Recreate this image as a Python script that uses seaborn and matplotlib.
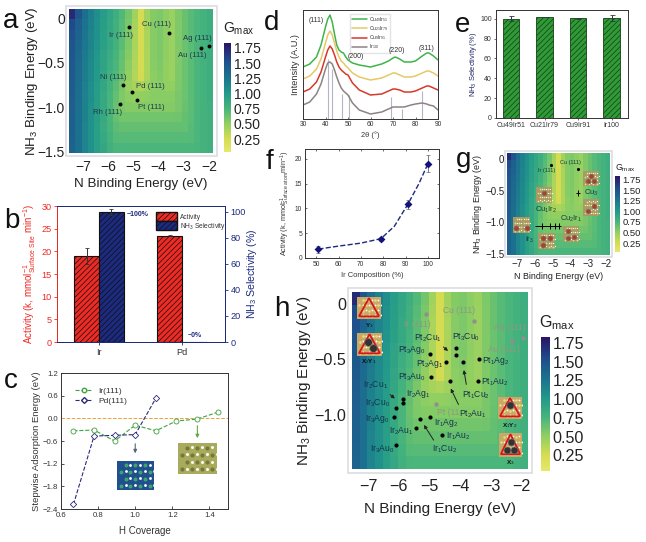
import numpy as np
import pandas as pd
import seaborn as sns
import matplotlib
matplotlib.use('Agg')
import matplotlib.pyplot as plt
from matplotlib.colors import LinearSegmentedColormap
from matplotlib.lines import Line2D
from matplotlib.patches import Patch, Polygon, Rectangle

# ---- data ----
G_GRID = [
    [1.72,1.48,1.30,1.18,1.08,.98,.90,.82,.72,.60,.44,.26,.44,.55,.57,.52,.48,.57,.64,.70,.74,.78,.82],
    [1.55,1.40,1.26,1.16,1.06,.96,.88,.80,.70,.58,.42,.25,.42,.54,.57,.52,.47,.56,.64,.70,.74,.78,.82],
    [1.50,1.38,1.25,1.15,1.05,.95,.87,.79,.69,.57,.41,.25,.41,.54,.57,.52,.47,.56,.64,.70,.74,.78,.82],
    [1.48,1.36,1.24,1.14,1.04,.94,.86,.78,.68,.56,.41,.25,.41,.54,.57,.51,.47,.56,.63,.69,.74,.78,.81],
    [1.46,1.34,1.22,1.12,1.02,.92,.84,.76,.66,.55,.40,.25,.40,.54,.57,.51,.47,.56,.63,.69,.74,.78,.81],
    [1.45,1.33,1.21,1.11,1.01,.91,.82,.74,.64,.52,.39,.25,.40,.53,.56,.50,.47,.56,.63,.69,.74,.78,.81],
    [1.44,1.32,1.20,1.10,1.00,.90,.80,.72,.62,.50,.38,.27,.40,.52,.55,.50,.47,.56,.63,.69,.74,.78,.81],
    [1.43,1.31,1.18,1.08,.98,.88,.78,.68,.58,.48,.42,.40,.45,.52,.53,.50,.50,.57,.63,.69,.74,.78,.81],
    [1.42,1.30,1.17,1.07,.97,.87,.76,.65,.56,.52,.50,.50,.51,.53,.53,.53,.53,.58,.63,.69,.74,.78,.81],
    [1.41,1.29,1.16,1.06,.96,.86,.75,.64,.57,.55,.55,.55,.55,.55,.55,.55,.55,.58,.64,.69,.74,.77,.80],
    [1.40,1.28,1.16,1.06,.96,.86,.75,.65,.60,.60,.60,.60,.60,.60,.60,.60,.60,.61,.65,.69,.74,.77,.80],
    [1.40,1.28,1.15,1.05,.95,.85,.76,.68,.65,.65,.65,.65,.65,.65,.65,.65,.65,.65,.66,.70,.74,.77,.80],
    [1.39,1.28,1.15,1.05,.95,.86,.78,.71,.70,.70,.70,.70,.70,.70,.70,.70,.70,.70,.70,.71,.74,.77,.80],
    [1.38,1.28,1.15,1.05,.95,.88,.80,.75,.74,.74,.74,.74,.74,.74,.74,.74,.74,.74,.74,.74,.75,.77,.80],
]
MAP_XTICKS = [-7, -6, -5, -4, -3, -2]
MAP_YTICKS = [0, -0.5, -1.0, -1.5]
MAP_YLABELS = ['0', '\u22120.5', '\u22121.0', '\u22121.5']
CBAR_TICKS = [0.25, 0.5, 0.75, 1.0, 1.25, 1.5, 1.75]

a_names = ['Ir (111)', 'Cu (111)', 'Ag (111)', 'Au (111)', 'Ni (111)', 'Pd (111)', 'Pt (111)', 'Rh (111)']
a_x = [-5.17, -3.59, -1.99, -2.33, -5.41, -5.04, -4.86, -5.53]
a_y = [-0.09, -0.16, -0.31, -0.33, -0.75, -0.83, -0.92, -0.96]
a_label_x = [-5.47, -4.09, -2.46, -2.65, -5.80, -4.33, -4.29, -6.03]
a_label_y = [-0.19, -0.06, -0.22, -0.42, -0.66, -0.77, -1.00, -1.06]

b_metals = ['Ir', 'Pd']
b_activity = [19.0, 23.4]
b_activity_err = [1.7, 0.1]
b_selectivity = [100.0, 0.0]
b_selectivity_err = [2.0, 0.0]

c_ir_x = [0.667, 0.778, 0.889, 1.0, 1.111, 1.222, 1.333, 1.444]
c_ir_y = [-0.33, -0.31, -0.60, -0.18, -0.33, -0.07, -0.02, 0.16]
c_pd_x = [0.667, 0.778, 0.889, 1.0, 1.111]
c_pd_y = [-2.28, -0.47, -0.45, -0.43, 0.53]

d_x = [30, 33, 36, 38, 40, 41, 42, 43, 44, 45, 46, 47, 48, 49, 50, 52, 55, 60, 65, 68, 70, 71, 73, 75, 78, 80, 83, 85, 86, 88, 90]
d_green = [52, 55, 62, 74, 92, 100, 104, 97, 85, 74, 69, 67, 66, 62, 59, 56, 54, 52, 55, 58, 61, 62, 60, 57, 57, 58, 63, 66, 66, 63, 59]
d_yellow = [40, 43, 50, 60, 76, 84, 88, 84, 76, 68, 62, 58, 56, 53, 51, 46, 42, 39, 41, 44, 46, 46, 44, 42, 42, 43, 46, 48, 48, 46, 43]
d_red = [27, 30, 37, 47, 62, 69, 73, 70, 64, 57, 52, 49, 47, 45, 44, 36, 29, 24, 25, 28, 30, 30, 29, 27, 27, 28, 31, 33, 33, 31, 29]
d_gray = [14, 17, 25, 35, 50, 56, 57, 55, 49, 42, 36, 31, 28, 26, 24, 16, 9, 5, 7, 10, 12, 12, 12, 12, 14, 15, 16, 15, 14, 13, 9]
d_stick_x = [41, 43, 47.5, 50.5, 69, 74, 83]
d_stick_h = [60, 50, 25, 24, 22, 10, 28]

e_labels = ['Cu49Ir51', 'Cu21Ir79', 'Cu9Ir91', 'Ir100']
e_values = [100.0, 101.5, 100.5, 100.5]
e_err = [2.5, 0.3, 0.6, 3.0]

f_x = [51, 79, 91, 100]
f_y = [1.8, 3.9, 10.8, 19.0]
f_err = [0.7, 0.4, 1.0, 1.7]
f_fit_x = [51, 60, 70, 79, 85, 91, 96, 100]
f_fit_y = [1.8, 2.4, 3.0, 3.9, 6.4, 10.8, 15.0, 19.0]

g_x = [-5.6, -5.13, -4.88, -4.62, -3.56]
g_y = [-1.06, -1.06, -1.06, -1.06, -0.53]
g_ref_x = [-5.1, -3.6]
g_ref_y = [-0.09, -0.16]

h_ref_names = ['Ir (111)', 'Cu (111)', 'Ag (111)', 'Au (111)', 'Pt (11']
h_ref_x = [-5.1, -3.55, -2.33, -1.97, -4.8]
h_ref_y = [-0.09, -0.15, -0.33, -0.31, -0.90]
h_ref_label_x = [-5.41, -4.03, -2.40, -2.60, -4.38]
h_ref_label_y = [-0.18, -0.06, -0.21, -0.41, -0.98]
h_x = [-4.15, -4.15, -5.0, -4.46, -3.92, -3.39, -4.95, -4.33, -3.43, -5.85, -5.85, -6.10, -6.15, -5.32, -4.98, -5.43, -4.61, -6.10]
h_y = [-0.40, -0.46, -0.45, -0.52, -0.52, -0.50, -0.66, -0.69, -0.69, -0.86, -0.89, -0.94, -1.02, -1.04, -1.02, -1.12, -1.18, -1.27]
h_names = ['Pt$_2$Cu$_1$', 'Pt$_3$Cu$_0$', 'Pt$_3$Ag$_0$', 'Pt$_2$Ag$_1$', 'Pt$_1$Ag$_2$', 'Pt$_3$Au$_0$',
           'Pt$_1$Au$_2$', 'Pt$_1$Cu$_2$', 'Pt$_2$Au$_1$', 'Ir$_2$Cu$_1$', 'Ir$_2$Ag$_1$', 'Ir$_3$Cu$_0$',
           'Ir$_3$Ag$_0$', 'Ir$_1$Ag$_2$', 'Ir$_2$Au$_1$', 'Ir$_1$Au$_2$', 'Ir$_1$Cu$_2$', 'Ir$_3$Au$_0$']
h_label_x = [-5.05, -3.82, -5.58, -4.98, -2.84, -5.58, -2.87, -3.49, -3.59, -6.76, -5.36, -6.68, -6.71, -4.45, -5.92, -4.08, -4.52, -6.53]
h_label_y = [-0.305, -0.30, -0.41, -0.54, -0.51, -0.655, -0.70, -0.825, -0.99, -0.73, -0.81, -0.90, -1.03, -1.07, -1.14, -1.19, -1.31, -1.31]
# arrow tail / head in energy units
h_arrows = [(-4.62, -0.37, -4.33, -0.44), (-3.79, -0.75, -3.90, -0.57), (-4.02, -0.93, -4.35, -0.74),
            (-6.35, -0.80, -6.06, -0.87), (-4.82, -1.25, -5.23, -1.07)]

# ---- style ----
sns.set_theme(style='ticks')
plt.rcParams['font.family'] = ['Liberation Sans', 'DejaVu Sans']
plt.rcParams['mathtext.fontset'] = 'custom'
plt.rcParams['mathtext.rm'] = 'Liberation Sans'
plt.rcParams['mathtext.default'] = 'rm'
plt.rcParams['hatch.linewidth'] = 0.5
plt.rcParams['axes.edgecolor'] = '#333333'
plt.rcParams['axes.linewidth'] = 0.7
plt.rcParams['text.color'] = '#333333'
plt.rcParams['axes.labelcolor'] = '#333333'
plt.rcParams['xtick.color'] = '#333333'
plt.rcParams['ytick.color'] = '#333333'

W, H = 646, 542
fig = plt.figure(figsize=(W / 100, H / 100), dpi=100, facecolor='white')

gmax_cmap = LinearSegmentedColormap.from_list('gmax', [
    (0.0, '#e6e86a'), (0.12, '#d6dc52'), (0.26, '#8fcf62'), (0.40, '#47b47c'),
    (0.54, '#22998a'), (0.68, '#1c748f'), (0.84, '#1f4c8b'), (1.0, '#2a1465')])


def add_ax(x0, y0, x1, y1, **kw):
    return fig.add_axes([x0 / W, 1 - y1 / H, (x1 - x0) / W, (y1 - y0) / H], **kw)


def letter(s, x, y):
    fig.text(x / W, 1 - y / H, s, fontsize=20, color='#111111', ha='center', va='baseline')


def energy_map(box, frame, cbar_box, xlim, ylim, tick_fs, label_fs, cbar_fs, xpad, ypad, xlabelpad, ylabelpad):
    fig.add_artist(Rectangle((frame[0] / W, 1 - frame[3] / H), (frame[2] - frame[0]) / W,
                             (frame[3] - frame[1]) / H, transform=fig.transFigure,
                             fc='white', ec='#dcdce2', lw=1.2, zorder=-1))
    hm_ax = add_ax(*box)
    cax = add_ax(*cbar_box)
    sns.heatmap(pd.DataFrame(G_GRID), ax=hm_ax, cmap=gmax_cmap, vmin=0.04, vmax=1.83, cbar_ax=cax,
                xticklabels=False, yticklabels=False)
    # same cells, blended so the field is as soft as in the original
    n_rows, n_cols = len(G_GRID), len(G_GRID[0])
    hm_ax.imshow(G_GRID, cmap=gmax_cmap, vmin=0.04, vmax=1.83, aspect='auto', interpolation='bilinear',
                 extent=(0, n_cols, n_rows, 0))
    hm_ax.set_xlim(0, n_cols)
    hm_ax.set_ylim(n_rows, 0)
    cb = hm_ax.collections[0].colorbar
    cb.set_ticks(CBAR_TICKS)
    cb.set_ticklabels(['%.2f' % t for t in CBAR_TICKS])
    cb.outline.set_visible(False)
    cb.ax.tick_params(length=0, labelsize=cbar_fs, pad=2, labelcolor='#222222')
    hm_ax.set_xlabel('')
    hm_ax.set_ylabel('')
    ov = add_ax(*box)
    ov.patch.set_alpha(0)
    for s in ov.spines.values():
        s.set_visible(False)
    ov.set_xlim(*xlim)
    ov.set_ylim(*ylim)
    ov.set_xticks(MAP_XTICKS)
    ov.set_xticklabels(['\u2212%d' % abs(t) for t in MAP_XTICKS])
    ov.set_yticks(MAP_YTICKS)
    ov.set_yticklabels(MAP_YLABELS)
    ov.tick_params(axis='x', length=0, labelsize=tick_fs, pad=xpad, labelcolor='#222222')
    ov.tick_params(axis='y', length=0, labelsize=tick_fs, pad=ypad, labelcolor='#222222')
    ov.set_xlabel('N Binding Energy (eV)', fontsize=label_fs, color='#222222', labelpad=xlabelpad)
    ov.set_ylabel('NH$_3$ Binding Energy (eV)', fontsize=label_fs, color='#222222', labelpad=ylabelpad)
    return ov


def crystal(x0, y0, x1, y1, bg, dots, dark=None, dark_col='#333333', triangle=False):
    ax = add_ax(x0, y0, x1, y1)
    ax.set_xlim(0, 1)
    ax.set_ylim(0, 1)
    ax.axis('off')
    ax.add_patch(Rectangle((0, 0), 1, 1, fc=bg, ec='none'))
    size = ((x1 - x0) / 13.0) ** 2
    for r, yy in enumerate([0.15, 0.38, 0.62, 0.85]):
        xs = np.arange(0.1 + (r % 2) * 0.13, 1.0, 0.26)
        ax.scatter(xs, [yy] * len(xs), s=size, color=dots, lw=0)
        ax.scatter(xs + 0.13, [yy + 0.02] * len(xs), s=size * 0.5, color='white', lw=0)
    if triangle:
        ax.add_patch(Polygon([[0.08, 0.12], [0.92, 0.12], [0.5, 0.95]], closed=True, fc='none', ec='#d8141c', lw=1.3))
    if dark:
        ax.scatter([p[0] for p in dark], [p[1] for p in dark], s=size * 8, color=dark_col, ec='#777777', lw=0.4, zorder=5)
    return ax


# ---- a ----
ax_a = energy_map((69, 9, 213, 153), (66, 6, 217, 156), (224, 43, 231, 152), (-7.55, -1.84), (-1.52, 0.11), 10, 9.6, 10, 5, 3, 3, -2)
sns.scatterplot(x=a_x, y=a_y, ax=ax_a, color='black', s=8, linewidth=0, legend=False)
for n, lx, ly in zip(a_names, a_label_x, a_label_y):
    ax_a.text(lx, ly, n, fontsize=5.6, ha='center', va='center', color='#1f3a4a')
fig.text(223 / W, 1 - 29 / H, 'G$_{max}$', fontsize=10, color='#222222', va='center')
ax_a.set_xlim(-7.55, -1.84)
ax_a.set_ylim(-1.52, 0.11)

# ---- b ----
ax_b = add_ax(57, 206, 225, 342)
long_b = pd.DataFrame({'metal': b_metals * 2, 'kind': ['Activity'] * 2 + ['NH3'] * 2,
                       'activity': b_activity + [np.nan] * 2, 'sel': [np.nan] * 2 + b_selectivity})
red, navy = '#ee2a24', '#1c2a80'
sns.barplot(data=long_b, x='metal', y='activity', hue='kind', hue_order=['Activity', 'NH3'],
            palette=[red, navy], width=0.6, saturation=1, errorbar=None, legend=False, ax=ax_b)
ax_b2 = ax_b.twinx()
sns.barplot(data=long_b, x='metal', y='sel', hue='kind', hue_order=['Activity', 'NH3'],
            palette=[red, navy], width=0.6, saturation=1, errorbar=None, legend=False, ax=ax_b2)
for a in (ax_b, ax_b2):
    for p in a.patches:
        p.set_hatch('//////')
        p.set_edgecolor('#111111')
        p.set_linewidth(0.8)
ax_b.errorbar([-0.15, 0.85], b_activity, yerr=b_activity_err, fmt='none', ecolor='#333333', elinewidth=0.7, capsize=1.5, capthick=0.6)
ax_b2.errorbar([0.15, 1.15], b_selectivity, yerr=b_selectivity_err, fmt='none', ecolor='#333333', elinewidth=0.7, capsize=1.5, capthick=0.6)
ax_b.set_xlim(-0.506, 1.518)
ax_b.set_ylim(0, 30)
ax_b2.set_ylim(0, 104.6)
ax_b.set_xlabel('')
ax_b.set_ylabel('Activity (k, mmol$^{-1}_{Surface\\ Site}$ min$^{-1}$)', color=red, fontsize=7, labelpad=2)
ax_b2.set_ylabel('NH$_3$ Selectivity (%)', color=navy, fontsize=7.6, labelpad=-1)
ax_b.tick_params(axis='y', colors=red, labelsize=6.6, length=2.5, width=0.6, pad=1.5)
ax_b.tick_params(axis='x', labelsize=6.6, length=2.5, width=0.6, pad=1.5)
ax_b.set_yticks(np.arange(0, 31, 5))
ax_b2.set_yticks(np.arange(0, 101, 20))
ax_b2.tick_params(axis='y', colors=navy, labelsize=6.6, length=2.5, width=0.6, pad=1.5)
ax_b2.spines['left'].set_color(red)
ax_b2.spines['right'].set_color(navy)
ax_b2.spines['top'].set_color(navy)
ax_b2.spines['bottom'].set_color(navy)
ax_b2.text(0.33, 98, '~100%', fontsize=5, fontweight='bold', color=navy, va='center')
ax_b2.text(1.07, 5, '~0%', fontsize=5, fontweight='bold', color=navy, va='center')
ax_b2.legend(handles=[Patch(fc=red, ec='#111111', hatch='//////', label='Activity'),
                      Patch(fc=navy, ec='#111111', hatch='//////', label='NH$_3$ Selectivity')],
             loc='upper left', bbox_to_anchor=(0.57, 0.98), frameon=False, fontsize=4.8,
             handlelength=3.2, handleheight=1.6, labelspacing=0, borderpad=0, handletextpad=0.4)

# ---- c ----
ax_c = add_ax(61, 373, 228, 509)
ax_c.axhline(0, color='#e8a33c', lw=0.7, ls='--')
ir_green, pd_navy = '#3fa33f', '#2c2a78'
sns.lineplot(x=c_ir_x, y=c_ir_y, ax=ax_c, color=ir_green, lw=0.8, ls='--', marker='o', ms=3.6, mfc='white', mec=ir_green, mew=0.6, errorbar=None, sort=False)
sns.lineplot(x=c_pd_x, y=c_pd_y, ax=ax_c, color=pd_navy, lw=0.8, ls='--', marker='D', ms=3.2, mfc='white', mec=pd_navy, mew=0.6, errorbar=None, sort=False)
ax_c.set_xlim(0.6, 1.5)
ax_c.set_ylim(-2.4, 1.2)
ax_c.set_xticks([0.6, 0.8, 1.0, 1.2, 1.4])
ax_c.set_yticks(np.arange(-2.4, 1.3, 0.6))
ax_c.tick_params(labelsize=5.6, length=2, width=0.6, direction='in', pad=2)
ax_c.set_xlabel('H Coverage', fontsize=7, labelpad=5)
ax_c.set_ylabel('Stepwise Adsorption Energy (eV)', fontsize=6.8, labelpad=1)
ax_c.legend(handles=[Line2D([], [], color=ir_green, lw=0.8, ls='--', marker='o', ms=3.2, mfc='white', label='Ir(111)'),
                     Line2D([], [], color=pd_navy, lw=0.8, ls='--', marker='D', ms=3, mfc='white', label='Pd(111)')],
            loc='upper left', bbox_to_anchor=(0.06, 0.93), frameon=False, fontsize=6, labelspacing=0.35, borderpad=0)
ax_c.annotate('', xy=(1.0, -1.0), xytext=(1.0, -0.6), arrowprops=dict(arrowstyle='-|>', color='#556677', lw=0.8, mutation_scale=5))
ax_c.annotate('', xy=(1.335, -0.6), xytext=(1.335, -0.12), arrowprops=dict(arrowstyle='-|>', color='#66aa44', lw=0.8, mutation_scale=5))
crystal(117, 461, 154, 490, '#1f4f8f', '#3fa36a')
crystal(178, 443, 217, 474, '#a8ab5c', '#77773a')

# ---- d ----
ax_d = add_ax(303, 10, 438, 119)
for sx, sh in zip(d_stick_x, d_stick_h):
    ax_d.vlines(sx, 0, sh, color='#b5b5c5', lw=0.8)
d_series = [(d_green, '#3fb44a', 'Cu$_{49}$Ir$_{51}$'), (d_yellow, '#e6c868', 'Cu$_{21}$Ir$_{79}$'),
            (d_red, '#d8382a', 'Cu$_9$Ir$_{91}$'), (d_gray, '#8c8484', 'Ir$_{100}$')]
for vals, col, lab in d_series:
    sns.lineplot(x=d_x, y=vals, ax=ax_d, color=col, lw=1.1, label=lab, errorbar=None)
ax_d.set_xlim(30, 90)
ax_d.set_ylim(0, 109)
ax_d.set_xticks(np.arange(30, 91, 10))
ax_d.set_yticks([])
ax_d.tick_params(labelsize=4.8, length=1.5, width=0.5, direction='in', pad=1.5)
ax_d.set_xlabel('2\u03b8 (\u00b0)', fontsize=5.4, labelpad=2)
ax_d.set_ylabel('Intensity (A.U.)', fontsize=6.6, labelpad=2)
for s, tx, ty in [('(111)', 35.8, 99), ('(200)', 53.5, 62), ('(220)', 71.8, 68), ('(311)', 85, 71)]:
    ax_d.text(tx, ty, s, fontsize=5, ha='center', va='center', zorder=10)
ax_d.legend(loc='upper left', bbox_to_anchor=(0.33, 0.99), frameon=True, edgecolor='#e4e4e8', framealpha=1, fancybox=False,
            fontsize=3.6, handlelength=3, labelspacing=0.05, borderpad=0.3, handletextpad=0.5)

# ---- e ----
ax_e = add_ax(496, 10, 628, 118)
sns.barplot(x=e_labels, y=e_values, ax=ax_e, color='#2f9a36', width=0.5, saturation=1, errorbar=None)
for p in ax_e.patches:
    p.set_hatch('//////')
    p.set_edgecolor('#143f18')
    p.set_linewidth(0.6)
ax_e.errorbar(range(4), e_values, yerr=e_err, fmt='none', ecolor='#2a3a44', elinewidth=0.7, capsize=1.8, capthick=0.6)
ax_e.set_xlim(-0.45, 3.49)
ax_e.set_ylim(0, 108.7)
ax_e.set_yticks(np.arange(0, 101, 20))
ax_e.tick_params(labelsize=5, length=1.5, width=0.5, pad=1.5)
ax_e.set_ylabel('NH$_3$ Selectivity (%)', color='#222266', fontsize=5.4, labelpad=1)
sns.despine(ax=ax_e, top=False, right=False)

# ---- f ----
ax_f = add_ax(305, 149, 439, 258)
sns.lineplot(x=f_fit_x, y=f_fit_y, ax=ax_f, color='#1c2a80', lw=1, ls='--', errorbar=None)
ax_f.errorbar(f_x, f_y, yerr=f_err, fmt='none', ecolor='#666666', elinewidth=0.6, capsize=1.5, capthick=0.5)
sns.scatterplot(x=f_x, y=f_y, ax=ax_f, color='#12127a', marker='D', s=16, linewidth=0, legend=False, zorder=5)
ax_f.set_xlim(45, 105)
ax_f.set_ylim(0, 22)
ax_f.set_xticks(np.arange(50, 101, 10))
ax_f.set_yticks(np.arange(0, 21, 5))
ax_f.tick_params(labelsize=4.8, length=1.5, width=0.5, direction='in', top=True, right=True, pad=2)
ax_f.set_xlabel('Ir Composition (%)', fontsize=5.4, labelpad=3)
ax_f.set_ylabel('Activity (k, mmol$^{-1}_{Surface\\ atom}$min$^{-1}$)', fontsize=5.2, labelpad=2)

# ---- g ----
ax_g = energy_map((507, 153, 610, 255), (505, 151, 612, 257), (615, 176, 620, 252), (-7.56, -1.78), (-1.52, 0.10), 7, 6.4, 6.8, 3, 2, 2, 1)
sns.scatterplot(x=g_ref_x, y=g_ref_y, ax=ax_g, color='black', s=5, linewidth=0, legend=False)
ax_g.errorbar(g_x, g_y, yerr=0.05, xerr=0.1, fmt='none', ecolor='black', elinewidth=0.7, capsize=0)
ax_g.hlines(-1.06, -5.97, -4.6, color='black', lw=0.7)
for s, tx, ty, fs in [('Ir (111)', -5.35, -0.18, 4), ('Cu (111)', -4.0, -0.05, 4), ('Cu$_3$', -2.85, -0.53, 5.4),
                      ('Cu$_1$Ir$_2$', -5.35, -0.8, 5.4), ('Cu$_2$Ir$_1$', -3.95, -0.95, 5.4), ('Ir$_3$', -6.3, -1.28, 5)]:
    ax_g.text(tx, ty, s, fontsize=fs, ha='center', va='center', color='#123a3a')
fig.text(615 / W, 1 - 168 / H, 'G$_{max}$', fontsize=6.4, va='center', color='#222222')
ax_g.set_xlim(-7.56, -1.78)
ax_g.set_ylim(-1.52, 0.10)
for box, spots in [((536, 187, 552, 203), [(0.5, 0.6)]),
                   ((583, 171, 599, 186), [(0.3, 0.35), (0.7, 0.35), (0.5, 0.7)]),
                   ((583, 199, 599, 216), [(0.3, 0.3), (0.7, 0.6)]),
                   ((513, 217, 530, 233), [(0.2, 0.3), (0.8, 0.3)]),
                   ((538, 233, 555, 249), [(0.3, 0.7), (0.3, 0.25), (0.7, 0.7)]),
                   ((563, 226, 579, 242), [(0.3, 0.7), (0.7, 0.3), (0.3, 0.25)])]:
    crystal(*box, '#a89a68', '#e6e070', dark=spots, dark_col='#a8432a')

# ---- h ----
ax_h = energy_map((352, 292, 528, 469), (348, 288, 532, 473), (541, 337, 550, 471), (-7.52, -1.80), (-1.49, 0.11), 11.6, 11, 11.6, 7, 4, 6, 1)
sns.scatterplot(x=h_ref_x, y=h_ref_y, ax=ax_h, color='#8f8f8f', s=10, linewidth=0, legend=False)
sns.scatterplot(x=h_x, y=h_y, ax=ax_h, color='black', s=9, linewidth=0, legend=False)
for n, lx, ly in zip(h_ref_names, h_ref_label_x, h_ref_label_y):
    ax_h.text(lx, ly, n, fontsize=6.2, color='#8c9a80', ha='center', va='center')
for n, lx, ly in zip(h_names, h_label_x, h_label_y):
    ax_h.text(lx, ly, n, fontsize=6.2, color='#15324a', ha='center', va='center')
for x0, y0, x1, y1 in h_arrows:
    ax_h.annotate('', xy=(x1, y1), xytext=(x0, y0), arrowprops=dict(arrowstyle='-|>', color='#222222', lw=0.7, mutation_scale=5))
fig.text(539 / W, 1 - 323 / H, 'G$_{max}$', fontsize=11.5, va='center', color='#222222')
ax_h.set_xlim(-7.52, -1.80)
ax_h.set_ylim(-1.49, 0.11)
crystal(357, 297, 381, 319, '#c9a868', '#e6e070', triangle=True)
crystal(357, 333, 382, 356, '#c9a868', '#e6e070', dark=[(0.45, 0.62), (0.62, 0.33)], triangle=True)
crystal(498, 397, 522, 419, '#c9a868', '#e6e070', dark=[(0.5, 0.62)], triangle=True)
crystal(499, 433, 522, 457, '#c9a868', '#e6e070', dark=[(0.5, 0.62), (0.33, 0.3), (0.67, 0.3)], triangle=True)
for s, px, py in [('Y$_3$', 369, 326), ('X$_2$Y$_1$', 369, 362), ('X$_1$Y$_2$', 510, 426), ('X$_3$', 510, 463)]:
    fig.text(px / W, 1 - py / H, s, fontsize=4.6, fontweight='bold', ha='center', va='center', color='#111111')

# ---- panel letters ----
for s, px, py in [('a', 11, 28), ('b', 12, 228), ('c', 11, 388), ('d', 272, 30), ('e', 463, 32), ('f', 270, 169), ('g', 464, 167), ('h', 282, 316)]:
    letter(s, px, py)

fig.savefig('out.png', dpi=100)
